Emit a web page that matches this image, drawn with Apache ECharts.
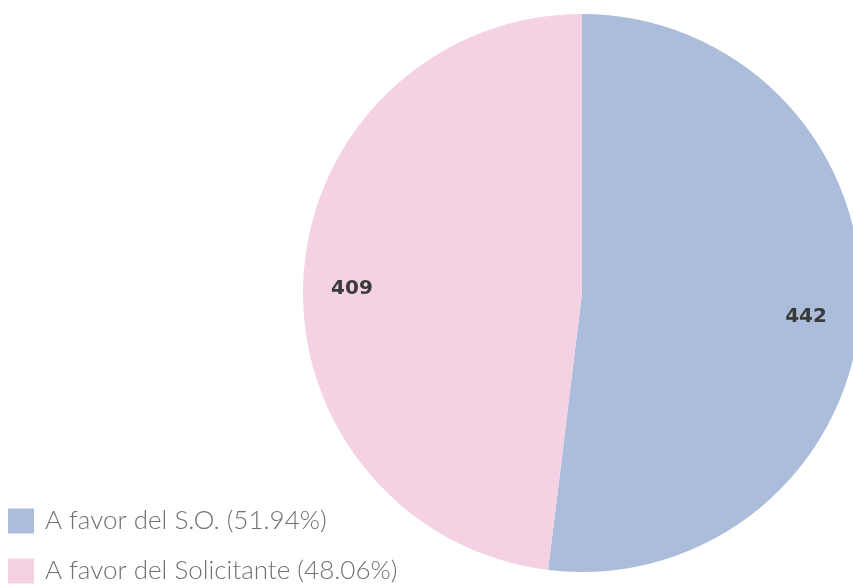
<!DOCTYPE html>
<html><head><meta charset="utf-8">
<script src="https://cdn.jsdelivr.net/npm/echarts@6/dist/echarts.min.js"></script>
<style>html,body{margin:0;padding:0;background:#fff}#c{width:853px;height:584px}</style>
</head><body><div id="c"></div>
<script>
const categories = ['A favor del S.O. (51.94%)', 'A favor del Solicitante (48.06%)'];
const values = [442, 409];
const colors = ['#abbddb', '#f4d1e3'];
const data = categories.map((n, i) => ({ name: n, value: values[i], itemStyle: { color: colors[i] } }));
const chart = echarts.init(document.getElementById('c'));
chart.setOption({
  animation: false,
  legend: {
    orient: 'vertical', left: 8, top: 508, padding: 0, itemWidth: 26, itemHeight: 25, itemGap: 24,
    height: 76, icon: 'rect',
    textStyle: { fontFamily: 'Lato', fontSize: 26, color: '#707070', fontWeight: 300, padding: [0, 0, 0, 6] },
    data: categories
  },
  series: [
    {
      type: 'pie', center: [582, 293], radius: [0, 279], startAngle: 90, clockwise: true,
      label: { show: false }, labelLine: { show: false }, silent: true,
      emphasis: { disabled: true }, data: data
    },
    {
      type: 'pie', center: [582, 293], radius: [170, 279], startAngle: 90, clockwise: true,
      itemStyle: { color: 'rgba(0,0,0,0)' }, silent: true, emphasis: { disabled: true },
      label: { show: true, position: 'inside', formatter: p => String(p.value), offset: [-3, 10],
        fontFamily: 'DejaVu Sans', fontWeight: 'bold', fontSize: 20, color: '#3a3a3a' },
      labelLine: { show: false },
      data: categories.map((n, i) => ({ name: n, value: values[i], itemStyle: { color: 'rgba(0,0,0,0)' } }))
    }
  ]
});
</script></body></html>
